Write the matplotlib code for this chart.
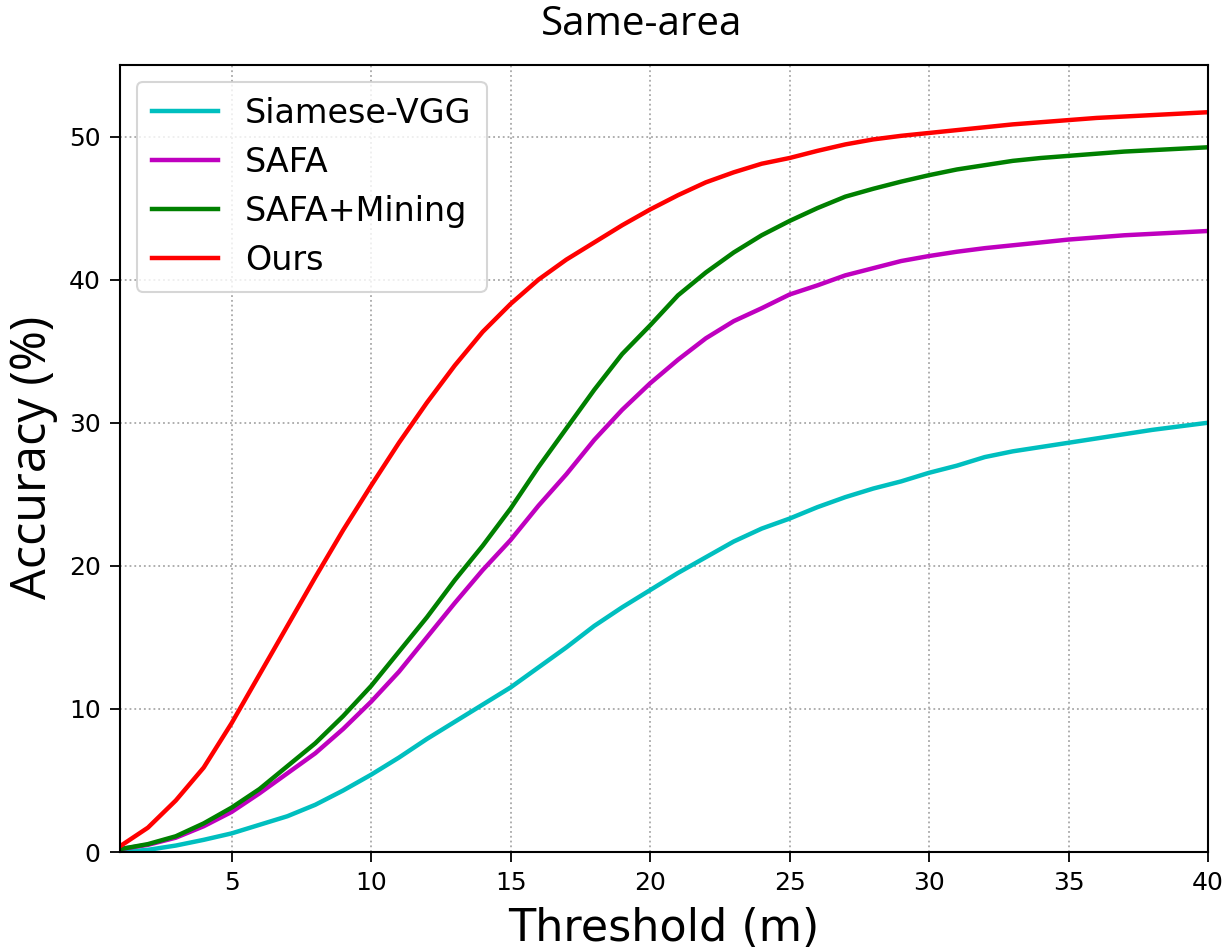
import matplotlib
matplotlib.use("Agg")
import matplotlib.pyplot as plt
from matplotlib import font_manager

# Threshold distances (m)
thresholds = list(range(1, 41))

# Accuracy (%) within each distance threshold
siamese_vgg = [0.0, 0.15, 0.45, 0.85, 1.3, 1.9, 2.5, 3.3, 4.3, 5.4,
               6.6, 7.9, 9.1, 10.3, 11.5, 12.9, 14.3, 15.8, 17.1, 18.3,
               19.5, 20.6, 21.7, 22.6, 23.3, 24.1, 24.8, 25.4, 25.9, 26.5,
               27.0, 27.6, 28.0, 28.3, 28.6, 28.9, 29.2, 29.5, 29.75, 30.0]
safa = [0.2, 0.5, 1.0, 1.8, 2.8, 4.1, 5.5, 6.9, 8.6, 10.5,
        12.6, 15.0, 17.4, 19.7, 21.8, 24.2, 26.4, 28.8, 30.9, 32.75,
        34.4, 35.9, 37.1, 38.0, 38.96, 39.6, 40.3, 40.8, 41.3, 41.65,
        41.95, 42.2, 42.4, 42.6, 42.8, 42.95, 43.1, 43.2, 43.3, 43.4]
safa_mining = [0.2, 0.55, 1.1, 2.0, 3.1, 4.4, 6.0, 7.6, 9.5, 11.6,
               14.0, 16.4, 19.0, 21.4, 24.0, 26.9, 29.6, 32.3, 34.8, 36.8,
               38.9, 40.5, 41.9, 43.1, 44.1, 45.0, 45.8, 46.35, 46.85, 47.3,
               47.7, 48.0, 48.3, 48.5, 48.65, 48.8, 48.95, 49.05, 49.15, 49.25]
ours = [0.4, 1.7, 3.6, 5.9, 9.0, 12.4, 15.8, 19.2, 22.5, 25.6,
        28.6, 31.4, 34.0, 36.35, 38.3, 40.0, 41.4, 42.6, 43.8, 44.9,
        45.9, 46.8, 47.5, 48.1, 48.5, 49.0, 49.45, 49.8, 50.05, 50.25,
        50.45, 50.65, 50.85, 51.0, 51.15, 51.3, 51.4, 51.5, 51.6, 51.7]

series_names = ["Siamese-VGG", "SAFA", "SAFA+Mining", "Ours"]
series_colors = ["#00bfbf", "#bf00bf", "#008000", "#ff0000"]

x_ticks = [5, 10, 15, 20, 25, 30, 35, 40]
y_ticks = [0, 10, 20, 30, 40, 50]

# narrow humanist face for title and y label
installed = {f.name for f in font_manager.fontManager.ttflist}
narrow = next((f for f in ["Liberation Sans Narrow", "Open Sans", "Lato"] if f in installed),
              "DejaVu Sans")

fig = plt.figure(figsize=(12.29, 9.5), dpi=100)
ax = fig.add_axes([120 / 1229, 98 / 950, 1088 / 1229, 787 / 950])

for ys, name, col in zip([siamese_vgg, safa, safa_mining, ours], series_names, series_colors):
    ax.plot(thresholds, ys, color=col, lw=3.2, label=name)

ax.set_xlim(1, 40)
ax.set_ylim(0, 55)
ax.set_xticks(x_ticks)
ax.set_yticks(y_ticks)
ax.tick_params(direction="out", length=7, width=1.3, pad=7, labelsize=18, colors="black")
for s in ax.spines.values():
    s.set_linewidth(1.5)
    s.set_color("black")
ax.grid(True, linestyle=":", color="#a8a8a8", linewidth=1.3)
ax.set_axisbelow(True)

leg = ax.legend(loc="upper left", fontsize=24, handlelength=2.0, labelspacing=0.48,
                borderpad=0.45, fancybox=True, framealpha=0.8,
                bbox_to_anchor=(0.0, 1.0), borderaxespad=0.5)
leg.get_frame().set_edgecolor("#cccccc")
leg.get_frame().set_linewidth(1.5)

fig.text(642 / 1229, 1 - 35 / 950, "Same-area", family=narrow, fontsize=29,
         ha="center", va="baseline")
fig.text(33 / 1229, 1 - 457 / 950, "Accuracy (%)", family=narrow, fontsize=35,
         rotation=90, ha="center", va="center")
fig.text(664 / 1229, 1 - 941 / 950, "Threshold (m)", fontsize=32,
         ha="center", va="baseline")

fig.savefig("out.png", dpi=100)
